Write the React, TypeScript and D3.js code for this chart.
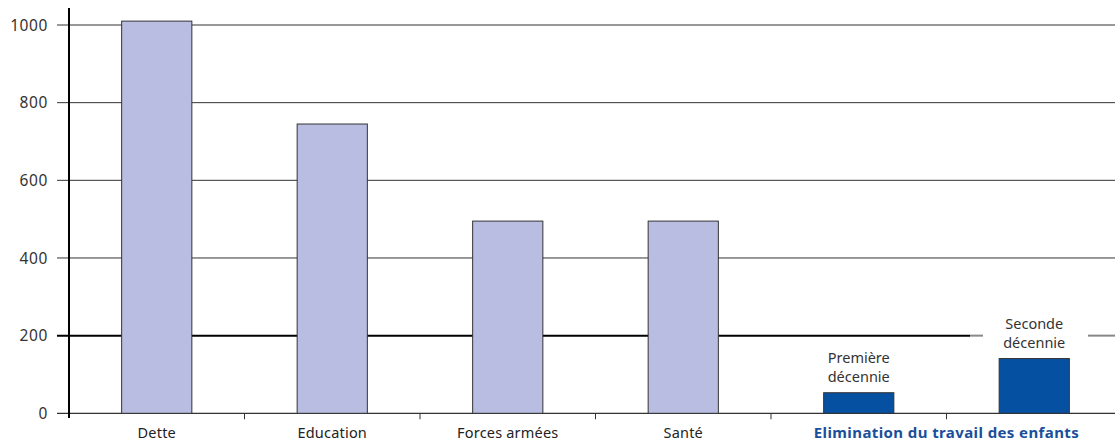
import React from "react";
import * as d3 from "d3";

const categories = ["Dette", "Education", "Forces armées", "Santé", "Première décennie", "Seconde décennie"];
const values = [1010, 745, 495, 495, 53, 141];
const highlighted = [false, false, false, false, true, true];
const yTicks = [0, 200, 400, 600, 800, 1000];
const groupLabel = "Elimination du travail des enfants";
const annotations = [
  { index: 4, lines: ["Première", "décennie"] },
  { index: 5, lines: ["Seconde", "décennie"] },
];

const W = 1115;
const H = 443;
const FONT = "'Noto Sans', sans-serif";

export default function App() {
  const left = 69;
  const bandW = 175.5;
  const x = d3
    .scaleBand<string>()
    .domain(categories)
    .range([left, left + bandW * categories.length])
    .paddingInner(0.6)
    .paddingOuter(0.3);
  const y = d3.scaleLinear().domain([0, 1000]).range([413.3, 25]);
  const tickXs = d3.range(categories.length + 1).map((i) => left + i * bandW);

  return (
    <svg width={W} height={H} style={{ position: "absolute", left: 0, top: 0, background: "#fff" }}>
      {/* gridlines */}
      {yTicks.filter((t) => t !== 0 && t !== 200).map((t) => (
        <line key={t} x1={57} x2={W} y1={y(t)} y2={y(t)} stroke="#333" strokeWidth={1} />
      ))}
      {/* 200 line: thick black with gap for annotation */}
      <line x1={57} x2={970} y1={y(200)} y2={y(200)} stroke="#000" strokeWidth={2} />
      <line x1={970} x2={983} y1={y(200)} y2={y(200)} stroke="#888" strokeWidth={2} />
      <line x1={1088} x2={W} y1={y(200)} y2={y(200)} stroke="#888" strokeWidth={2} />
      {/* baseline */}
      <line x1={57} x2={W} y1={y(0)} y2={y(0)} stroke="#333" strokeWidth={1.2} />
      {/* bars */}
      {categories.map((c, i) => (
        <rect
          key={c}
          x={x(c)}
          y={y(values[i])}
          width={x.bandwidth()}
          height={y(0) - y(values[i])}
          fill={highlighted[i] ? "#0650a2" : "#babde2"}
          stroke="#333"
          strokeWidth={1}
        />
      ))}
      {/* y axis */}
      <line x1={69} x2={69} y1={8} y2={418} stroke="#000" strokeWidth={2} />
      {yTicks.map((t) => (
        <text key={t} x={48} y={y(t)} dy="0.36em" textAnchor="end" fontFamily={FONT} fontSize={15.5} letterSpacing={0.6} fill="#333">
          {t}
        </text>
      ))}
      {/* x ticks */}
      {tickXs.slice(1).map((tx, i) => (
        <line key={i} x1={tx} x2={tx} y1={y(0)} y2={y(0) + 6} stroke="#333" strokeWidth={1} />
      ))}
      {/* x labels */}
      {categories.slice(0, 4).map((c) => (
        <text key={c} x={(x(c) ?? 0) + x.bandwidth() / 2} y={438} textAnchor="middle" fontFamily={FONT} fontSize={14.5} letterSpacing={0.2} fill="#222">
          {c}
        </text>
      ))}
      <text x={tickXs[5]} y={438} textAnchor="middle" fontFamily={FONT} fontSize={15} letterSpacing={0.4} fontWeight="bold" fill="#1a4f9c">
        {groupLabel}
      </text>
      {/* annotations */}
      {annotations.map((a) => {
        const cx = (x(categories[a.index]) ?? 0) + x.bandwidth() / 2;
        const top = y(values[a.index]);
        return (
          <text key={a.index} textAnchor="middle" fontFamily={FONT} fontSize={14.5} fill="#333">
            <tspan x={cx} y={top - 30}>{a.lines[0]}</tspan>
            <tspan x={cx} y={top - 11}>{a.lines[1]}</tspan>
          </text>
        );
      })}
    </svg>
  );
}
